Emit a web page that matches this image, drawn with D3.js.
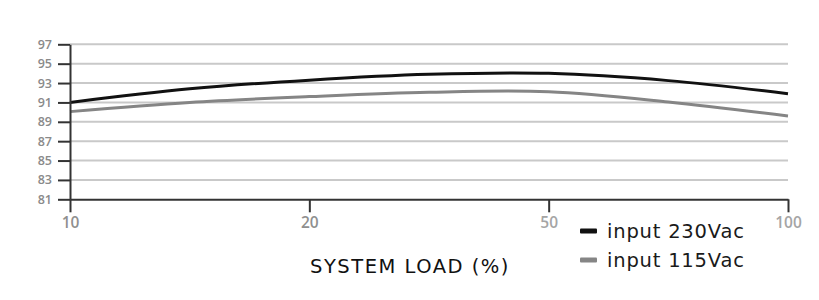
<!DOCTYPE html>
<html>
<head>
<meta charset="utf-8">
<script src="https://cdn.jsdelivr.net/npm/d3@7"></script>
<style>
	body{margin:0;background:#fff;}
	svg{display:block;}
</style>
</head>
<body>
<svg id="chart"></svg>
<script>

// categories on the x axis (equally spaced)
const loads = ['10','20','50','100']
// sample positions along the axis (0 = 10%, 3 = 100%)
const samplePos = [0, 0.5, 1, 1.5, 2, 2.5, 3]
const eff230 = [91.0, 92.4, 93.3, 93.9, 94.0, 93.25, 91.9]
const eff115 = [90.05, 91.0, 91.6, 92.05, 92.1, 91.05, 89.6]
const yTicks = [81, 83, 85, 87, 89, 91, 93, 95, 97]
const seriesNames = ['input 230Vac', 'input 115Vac']

let outer_width = 819
let outer_height = 300

let margin = {
	top: 44.3,
	left: 70,
	right: 31,
	bottom: 100.7
}

let width = outer_width - margin.left - margin.right
let height = outer_height - margin.top - margin.bottom

const font = "'Open Sans', 'DejaVu Sans', sans-serif"
const wideFont = "'DejaVu Sans', 'Open Sans', sans-serif"

const svg = d3.select('#chart')
	.attr('width', outer_width)
	.attr('height', outer_height)
	.style('font-family', font)

const chart = svg.append('g')
	.attr('transform', `translate(${margin.left},${margin.top})`)

const xCat = d3.scalePoint()
	.domain(loads)
	.range([0, width])

const xPos = d3.scaleLinear()
	.domain([0, loads.length - 1])
	.range([0, width])

const yScale = d3.scaleLinear()
	.domain([81, 97])
	.range([height, 0])

// gridlines
chart.append('g')
	.selectAll('line')
	.data(yTicks.filter(t => t != 81))
	.enter()
	.append('line')
	.attr('x1', 0)
	.attr('x2', width)
	.attr('y1', d => yScale(d))
	.attr('y2', d => yScale(d))
	.attr('stroke', '#c9c9c9')
	.attr('stroke-width', 2)

// lines
const line = d3.line()
	.x(d => xPos(d[0]))
	.y(d => yScale(d[1]))
	.curve(d3.curveCatmullRom.alpha(0.5))

const series = [
	{name: seriesNames[0], values: eff230, color: '#111111'},
	{name: seriesNames[1], values: eff115, color: '#858585'}
]

chart.selectAll('.series')
	.data(series.slice().reverse())
	.enter()
	.append('path')
	.attr('fill', 'none')
	.attr('stroke', d => d.color)
	.attr('stroke-width', 3)
	.attr('d', d => line(d.values.map((v, i) => [samplePos[i], v])))

// axes
const axisY = chart.append('g')
	.call(d3.axisLeft(yScale).tickValues(yTicks).tickSize(12).tickSizeOuter(0).tickPadding(6))
axisY.select('.domain').attr('stroke', '#333').attr('stroke-width', 2)
axisY.selectAll('.tick line').attr('stroke', '#333').attr('stroke-width', 2)
axisY.selectAll('.tick text')
	.attr('fill', '#8a8a8a')
	.attr('font-size', '12.5px')
	.attr('font-weight', 600)
	.attr('font-family', font)

const axisX = chart.append('g')
	.attr('transform', `translate(0,${height})`)
	.call(d3.axisBottom(xCat).tickSize(13).tickSizeOuter(0).tickPadding(5))
axisX.select('.domain').attr('stroke', '#333').attr('stroke-width', 2)
axisX.selectAll('.tick line').attr('stroke', '#333').attr('stroke-width', 2)
axisX.selectAll('.tick text')
	.attr('fill', (d, i) => i < 2 ? '#8f8f8f' : '#a5a5a5')
	.attr('font-size', '15.5px')
	.attr('font-weight', 600)
	.attr('font-family', font)

// x title
svg.append('text')
	.text('SYSTEM LOAD (%)')
	.attr('x', 410)
	.attr('y', 273)
	.attr('text-anchor', 'middle')
	.attr('font-family', wideFont)
	.attr('font-size', '19.5px')
	.attr('letter-spacing', '1.5px')
	.attr('fill', '#111')

// legend
const legend = svg.append('g')
	.attr('transform', 'translate(580,231)')

const items = legend.selectAll('.item')
	.data(series)
	.enter()
	.append('g')
	.attr('transform', (d, i) => `translate(0,${i * 29})`)

items.append('rect')
	.attr('x', 0)
	.attr('y', -2.5)
	.attr('width', 17)
	.attr('height', 5)
	.attr('rx', 1)
	.attr('fill', d => d.color)

items.append('text')
	.text(d => d.name)
	.attr('x', 27)
	.attr('y', 7)
	.attr('font-family', wideFont)
	.attr('font-size', '19.5px')
	.attr('letter-spacing', '0.8px')
	.attr('fill', '#1a1a1a')

</script>
</body>
</html>
